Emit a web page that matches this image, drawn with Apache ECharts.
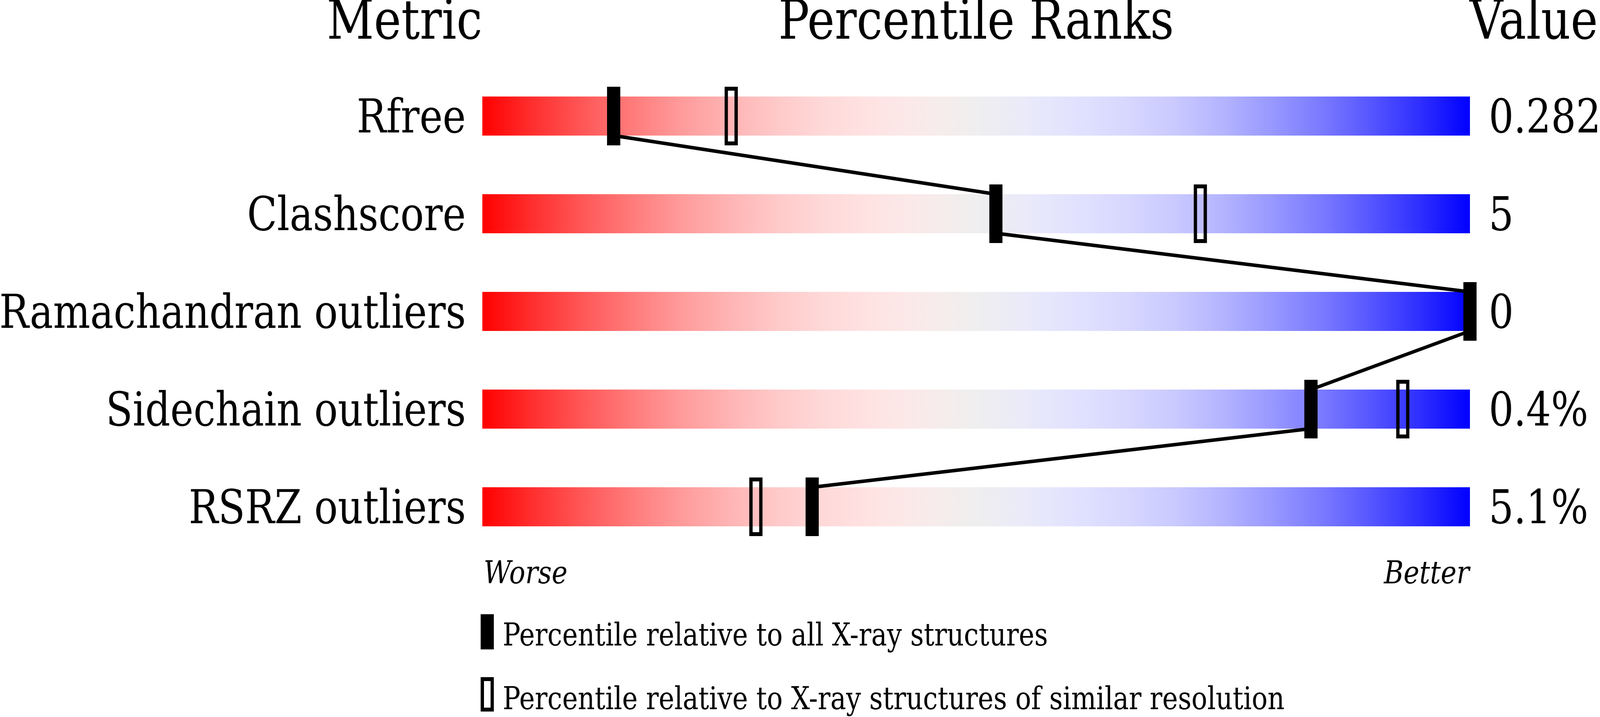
<!DOCTYPE html>
<html>
<head>
<meta charset="utf-8">
<script src="https://cdn.jsdelivr.net/npm/echarts@6/dist/echarts.min.js"></script>
<style>
html,body{margin:0;padding:0;background:#fff;overflow:hidden;}
#chart{width:4860px;height:1835px;transform-origin:0 0;}
</style>
</head>
<body>
<div id="chart"></div>
<script>
// ---- data ----
const metrics = ['Rfree', 'Clashscore', 'Ramachandran outliers', 'Sidechain outliers', 'RSRZ outliers'];
const values = ['0.282', '5', '0', '0.4%', '5.1%'];
const pctAll = [13.3, 52.0, 100, 83.9, 33.4];
const pctSimilar = [25.2, 72.7, 100, 93.2, 27.7];
const headers = ['Metric', 'Percentile Ranks', 'Value'];
const axisEnds = ['Worse', 'Better'];
const legendTexts = ['Percentile relative to all X-ray structures', 'Percentile relative to X-ray structures of similar resolution'];

const FONT = 'DejaVu Serif';
const el = document.getElementById('chart');
// fit the 4860x1835 drawing to the actual window
const sx = (window.innerWidth || 4860) / 4860, sy = (window.innerHeight || 1835) / 1835;
el.style.transform = 'scale(' + sx + ',' + sy + ')';
const chart = echarts.init(el, null, {renderer: 'canvas', width: 4860, height: 1835});

const gradStops = [
  {offset: 0.00, color: 'rgb(255,0,0)'},
  {offset: 0.05, color: 'rgb(255,46,46)'},
  {offset: 0.10, color: 'rgb(255,86,86)'},
  {offset: 0.15, color: 'rgb(255,122,122)'},
  {offset: 0.20, color: 'rgb(255,154,154)'},
  {offset: 0.25, color: 'rgb(255,180,180)'},
  {offset: 0.30, color: 'rgb(255,202,202)'},
  {offset: 0.35, color: 'rgb(255,218,218)'},
  {offset: 0.40, color: 'rgb(255,228,228)'},
  {offset: 0.45, color: 'rgb(249,235,235)'},
  {offset: 0.50, color: 'rgb(239,239,239)'},
  {offset: 0.55, color: 'rgb(234,234,250)'},
  {offset: 0.60, color: 'rgb(226,226,255)'},
  {offset: 0.65, color: 'rgb(216,216,255)'},
  {offset: 0.70, color: 'rgb(202,202,255)'},
  {offset: 0.75, color: 'rgb(180,180,255)'},
  {offset: 0.80, color: 'rgb(152,152,255)'},
  {offset: 0.85, color: 'rgb(122,122,255)'},
  {offset: 0.90, color: 'rgb(86,86,255)'},
  {offset: 0.95, color: 'rgb(46,46,255)'},
  {offset: 1.00, color: 'rgb(0,0,255)'}
];

const barData = metrics.map((m, i) => [i]);
const allData = pctAll.map((v, i) => [v, i]);
const simData = pctSimilar.map((v, i) => [v, i]);
const segData = [];
for (let i = 0; i < pctAll.length - 1; i++) segData.push([pctAll[i], i, pctAll[i + 1], i + 1]);

function bandH(api) { return api.size([0, 1])[1]; }
function f(px, extra) { return (extra || '') + px + 'px "' + FONT + '"'; }
const LABEL_SIZE = 119;

const option = {
  backgroundColor: '#fff',
  animation: false,
  grid: {left: 1465, width: 3000, top: 172, height: 1250, containLabel: false},
  xAxis: {type: 'value', min: 0, max: 100, show: false},
  yAxis: {type: 'category', data: metrics, inverse: true, show: false},
  series: [
    {type: 'custom', name: 'bars', data: barData, encode: {y: 0}, z: 1,
     renderItem: function (params, api) {
       const i = api.value(0);
       const p0 = api.coord([0, i]);
       const p1 = api.coord([100, i]);
       const h = bandH(api) * 0.4;
       const ty = p0[1] + h / 2 - 1 - 0.316 * LABEL_SIZE;
       return {type: 'group', children: [
         {type: 'rect', shape: {x: p0[0], y: p0[1] - h / 2, width: p1[0] - p0[0], height: h},
          style: {fill: new echarts.graphic.LinearGradient(0, 0, 1, 0, gradStops)}},
         {type: 'text', x: p0[0] - 50, y: ty,
          style: {text: metrics[i], font: f(LABEL_SIZE), fill: '#000', align: 'right', verticalAlign: 'middle'}},
         {type: 'text', x: p1[0] + 57, y: ty,
          style: {text: values[i], font: f(LABEL_SIZE), fill: '#000', align: 'left', verticalAlign: 'middle'}}
       ]};
     }},
    {type: 'custom', name: 'links', data: segData, encode: {x: [0, 2], y: [1, 3]}, z: 2,
     renderItem: function (params, api) {
       const h = bandH(api) * 0.4;
       const a = api.coord([api.value(0), api.value(1)]);
       const b = api.coord([api.value(2), api.value(3)]);
       return {type: 'line', shape: {x1: a[0], y1: a[1] + h / 2, x2: b[0], y2: b[1] - h / 2},
         style: {stroke: '#000', lineWidth: 9}};
     }},
    {type: 'custom', name: legendTexts[1], data: simData, encode: {x: 0, y: 1}, z: 3,
     renderItem: function (params, api) {
       const p = api.coord([api.value(0), api.value(1)]);
       const h = bandH(api) * 0.6;
       return {type: 'rect', shape: {x: p[0] - 15, y: p[1] - h / 2 + 5, width: 30, height: h - 10},
         style: {fill: 'none', stroke: '#000', lineWidth: 10}};
     }},
    {type: 'custom', name: legendTexts[0], data: allData, encode: {x: 0, y: 1}, z: 4,
     renderItem: function (params, api) {
       const p = api.coord([api.value(0), api.value(1)]);
       const h = bandH(api) * 0.6;
       return {type: 'rect', shape: {x: p[0] - 20, y: p[1] - h / 2, width: 40, height: h},
         style: {fill: '#000'}};
     }}
  ],
  graphic: [
    {type: 'text', x: 1465, y: 63, style: {text: headers[0], font: f(140), fill: '#000', align: 'right', verticalAlign: 'middle'}},
    {type: 'text', x: 2965, y: 63, style: {text: headers[1], font: f(140), fill: '#000', align: 'center', verticalAlign: 'middle'}},
    {type: 'text', x: 4464, y: 63, style: {text: headers[2], font: f(140), fill: '#000', align: 'left', verticalAlign: 'middle'}},
    {type: 'text', x: 1469, y: 1472, style: {text: axisEnds[0], font: f(81, 'italic '), fill: '#000', align: 'left', verticalAlign: 'middle'}},
    {type: 'text', x: 4463, y: 1472, style: {text: axisEnds[1], font: f(81, 'italic '), fill: '#000', align: 'right', verticalAlign: 'middle'}},
    {type: 'rect', shape: {x: 1460, y: 1572, width: 40, height: 90}, style: {fill: '#000'}},
    {type: 'text', x: 1527, y: 1631, style: {text: legendTexts[0], font: f(80), fill: '#000', align: 'left', verticalAlign: 'middle'}},
    {type: 'rect', shape: {x: 1465, y: 1738, width: 30, height: 78}, style: {fill: 'none', stroke: '#000', lineWidth: 10}},
    {type: 'text', x: 1527, y: 1794, style: {text: legendTexts[1], font: f(80), fill: '#000', align: 'left', verticalAlign: 'middle'}}
  ]
};
chart.setOption(option);
</script>
</body>
</html>
